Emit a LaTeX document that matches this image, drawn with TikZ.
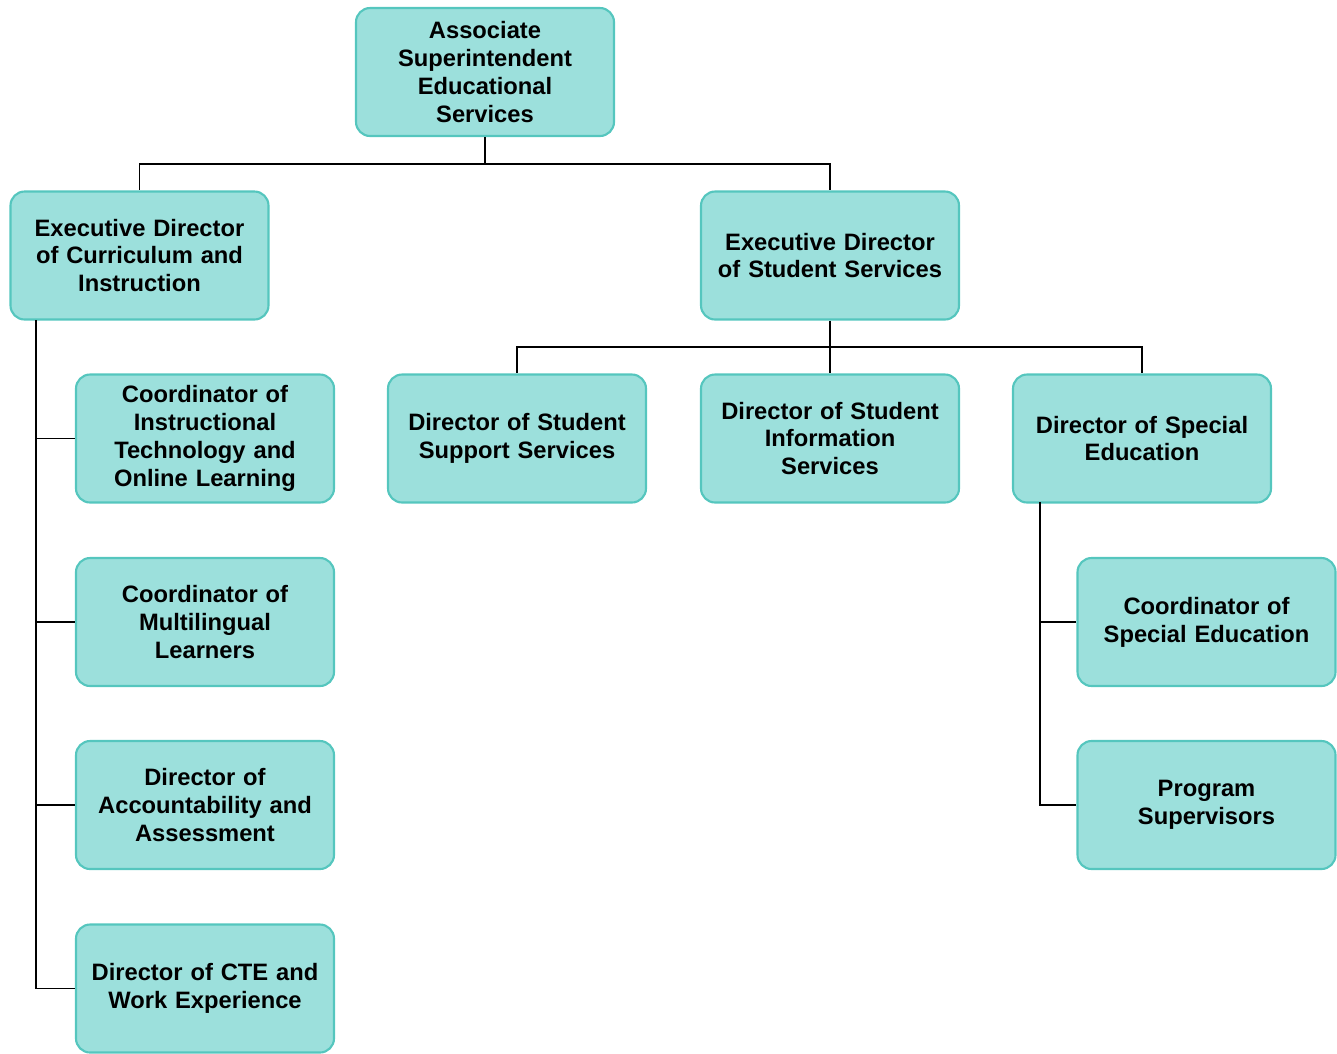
\documentclass[tikz,border=0pt]{standalone}
\usepackage{fontspec}
\setmainfont{Liberation Sans}
\usepackage{tikz}
\definecolor{orgfill}{HTML}{9CE0DC}
\definecolor{orgedge}{HTML}{55C6BE}
\begin{document}
\begin{tikzpicture}[
  font=\bfseries\fontsize{13.5}{15.9}\selectfont,
  box/.style={draw=orgedge,line width=1.2pt,fill=orgfill,rounded corners=8pt,align=center,inner sep=0pt,text width=4.9cm,minimum width=5.16cm,minimum height=2.56cm},
  ln/.style={draw=black,line width=1.1pt},
]
\useasboundingbox (0,0) rectangle (26.74,-21.06);
\node[box] (as) at (9.7,-1.44) {Associate\\Superintendent\\Educational\\Services};
\node[box] (eci) at (2.79,-5.11) {Executive Director\\of Curriculum and\\Instruction};
\node[box] (ess) at (16.6,-5.11) {Executive Director\\of Student Services};
\node[box] (cit) at (4.1,-8.77) {Coordinator of\\Instructional\\Technology and\\Online Learning};
\node[box] (cml) at (4.1,-12.44) {Coordinator of\\Multilingual\\Learners};
\node[box] (daa) at (4.1,-16.1) {Director of\\Accountability and\\Assessment};
\node[box] (cte) at (4.1,-19.77) {Director of CTE and\\Work Experience};
\node[box] (dsss) at (10.34,-8.77) {Director of Student\\Support Services};
\node[box] (dsis) at (16.6,-8.77) {Director of Student\\Information\\Services};
\node[box] (dse) at (22.84,-8.77) {Director of Special\\Education};
\node[box] (cse) at (24.13,-12.44) {Coordinator of\\Special Education};
\node[box] (ps) at (24.13,-16.1) {Program\\Supervisors};
\coordinate (topbus) at (9.7,-3.28);
\coordinate (ssbus) at (16.6,-6.94);
\coordinate (cispine) at (0.72,-6.4);
\coordinate (sespine) at (20.8,-10.04);
\draw[ln] (as) -- (topbus) -| (eci);
\draw[ln] (topbus) -| (ess);
\draw[ln] (ess) -- (ssbus) -| (dsss);
\draw[ln] (ssbus) -| (dse);
\draw[ln] (ssbus) -- (dsis);
\draw[ln] (cispine) |- (cit);
\draw[ln] (cispine) |- (cml);
\draw[ln] (cispine) |- (daa);
\draw[ln] (cispine) |- (cte);
\draw[ln] (sespine) |- (cse);
\draw[ln] (sespine) |- (ps);
\end{tikzpicture}
\end{document}
